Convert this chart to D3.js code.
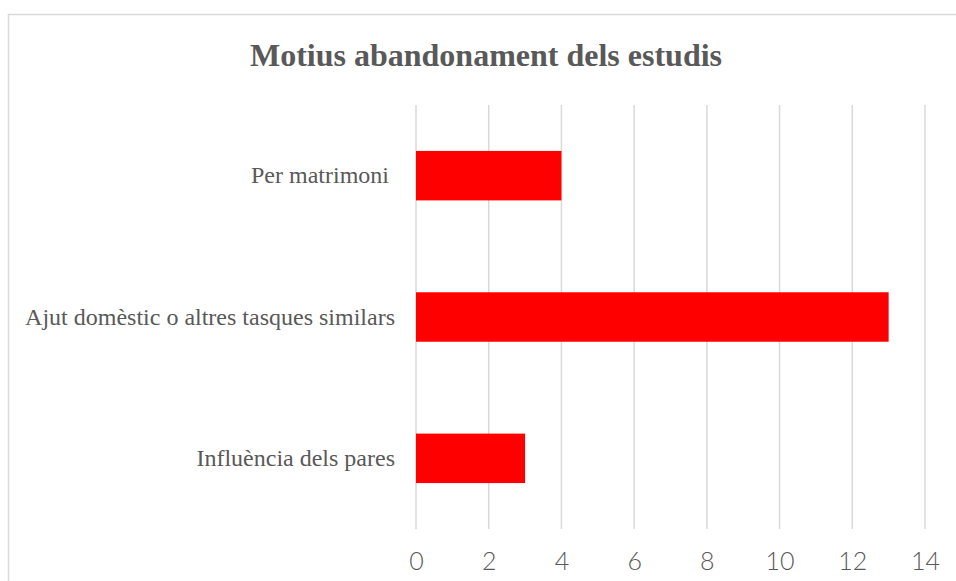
<!DOCTYPE html>
<html>
<head>
<meta charset="utf-8">
<script src="https://cdn.jsdelivr.net/npm/d3@7"></script>
<style>
  body { margin: 0; background: #fff; }
</style>
</head>
<body>
<div id="chart"></div>
<script>
// data
var categories = ["Per matrimoni ", "Ajut domèstic o altres tasques similars", "Influència dels pares"];
var values = [4, 13, 3];
var xTicks = [0, 2, 4, 6, 8, 10, 12, 14];
var title = "Motius abandonament dels estudis";

var svgWidth = 956;
var svgHeight = 581;

var margin = { top: 105, right: 31, bottom: 52, left: 416 };
var width = svgWidth - margin.left - margin.right;
var height = svgHeight - margin.top - margin.bottom;

var svg = d3.select("#chart")
  .append("svg")
  .attr("width", svgWidth)
  .attr("height", svgHeight);

// chart border (right/bottom run off the page)
svg.append("rect")
  .attr("x", 8.5)
  .attr("y", 14.5)
  .attr("width", 1000)
  .attr("height", 1000)
  .attr("fill", "none")
  .attr("stroke", "#d9d9d9")
  .attr("stroke-width", 1.5);

svg.append("text")
  .attr("x", 486)
  .attr("y", 66)
  .attr("text-anchor", "middle")
  .style("font-family", "'Liberation Serif', 'Times New Roman', serif")
  .style("font-weight", "bold")
  .style("font-size", "32px")
  .style("fill", "#595959")
  .text(title);

var chartGroup = svg.append("g")
  .attr("transform", `translate(${margin.left}, ${margin.top})`);

var xScale = d3.scaleLinear()
  .domain([0, 14])
  .range([0, width]);

var yScale = d3.scaleBand()
  .domain(categories)
  .range([0, height])
  .paddingInner(0.65)
  .paddingOuter(0.325);

// gridlines
chartGroup.selectAll(".grid")
  .data(xTicks)
  .enter()
  .append("line")
  .attr("x1", d => xScale(d))
  .attr("x2", d => xScale(d))
  .attr("y1", 0)
  .attr("y2", height)
  .attr("stroke", "#d9d9d9")
  .attr("stroke-width", 1.5);

// bars
chartGroup.selectAll(".bar")
  .data(values)
  .enter()
  .append("rect")
  .attr("x", xScale(0))
  .attr("y", (d, i) => yScale(categories[i]))
  .attr("width", d => xScale(d) - xScale(0))
  .attr("height", yScale.bandwidth())
  .attr("fill", "#ff0000");

// x axis labels
var xaxis = d3.axisBottom(xScale)
  .tickValues(xTicks)
  .tickSize(0)
  .tickPadding(23);

var xg = chartGroup.append("g")
  .attr("transform", `translate(0, ${height})`)
  .call(xaxis);
xg.select(".domain").remove();
xg.selectAll("text")
  .style("font-family", "'Lato', 'Noto Sans', sans-serif")
  .style("font-weight", "300")
  .style("font-size", "25px")
  .style("fill", "#595959");

// y axis labels
var yaxis = d3.axisLeft(yScale)
  .tickSize(0)
  .tickPadding(21);

var yg = chartGroup.append("g").call(yaxis);
yg.select(".domain").remove();
yg.selectAll("text")
  .style("font-family", "'Liberation Serif', 'Times New Roman', serif")
  .style("font-size", "24px")
  .style("white-space", "pre")
  .style("fill", "#595959");
</script>
</body>
</html>
